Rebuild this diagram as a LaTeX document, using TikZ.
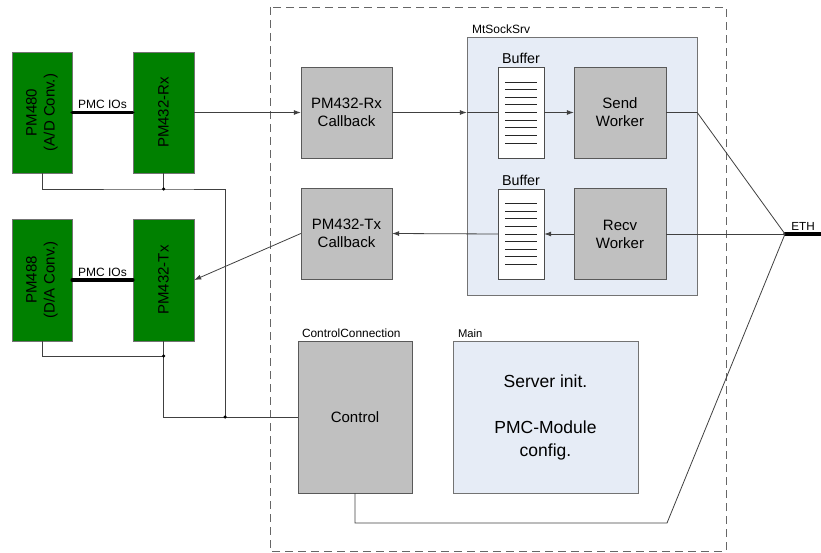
\documentclass[tikz,border=0pt]{standalone}
\usepackage{fontspec}
\setmainfont{Liberation Sans}
\usetikzlibrary{arrows.meta}

\definecolor{pmcgreen}{RGB}{0,128,0}
\definecolor{srvblue}{RGB}{230,236,246}
\definecolor{procgray}{RGB}{192,192,192}

\tikzset{
  conn/.style={draw=black!75, line width=0.8pt},
  bus/.style={draw=black, line width=3.5pt, line cap=round},
  pmcbox/.style={draw=black!55, fill=pmcgreen, inner sep=0pt},
  procbox/.style={draw=black!65, fill=procgray, inner sep=0pt, align=center,
    minimum width=91pt, minimum height=91pt, font=\fontsize{15}{18}\selectfont},
  bufbox/.style={draw=black!70, fill=white, minimum width=46pt, minimum height=91pt, inner sep=0pt},
  grpbox/.style={draw=black!55, fill=srvblue, inner sep=0pt},
  tag/.style={font=\fontsize{12}{14}\selectfont, inner sep=0pt},
  junction/.style={circle, fill=black, inner sep=0pt, minimum size=3.5pt}
}

\begin{document}
\begin{tikzpicture}[x=1pt, y=-1pt, >={Latex[length=7pt,width=5pt]}]
    \useasboundingbox (0,0) rectangle (821,553);
    % outer dashed frame
    \draw[black!60, line width=0.8pt, dash pattern=on 8pt off 5pt] (270,7) rectangle (726,551);
    % PMC modules
    \node[pmcbox, minimum width=60pt, minimum height=121pt] (pmA) at (42,112.5)
        {\rotatebox{90}{\fontsize{15}{18}\selectfont\begin{tabular}{@{}c@{}}PM480\\(A/D Conv.)\end{tabular}}};
    \node[pmcbox, minimum width=61pt, minimum height=121pt] (rx) at (163.5,112.5)
        {\rotatebox{90}{\fontsize{15}{18}\selectfont PM432-Rx}};
    \node[pmcbox, minimum width=60pt, minimum height=122pt] (pmD) at (42,280)
        {\rotatebox{90}{\fontsize{15}{18}\selectfont\begin{tabular}{@{}c@{}}PM488\\(D/A Conv.)\end{tabular}}};
    \node[pmcbox, minimum width=61pt, minimum height=122pt] (tx) at (163.5,280)
        {\rotatebox{90}{\fontsize{15}{18}\selectfont PM432-Tx}};
    % server group
    \node[grpbox, minimum width=230pt, minimum height=258pt] (srv) at (582,166) {};
    \node[tag, anchor=south west] (srvlbl) at ([xshift=5pt,yshift=3pt]srv.north west) {MtSockSrv};
    \node[procbox] (rxcb) at (346.5,112.5) {PM432-Rx\\Callback};
    \node[procbox] (txcb) at (346.5,233.5) {PM432-Tx\\Callback};
    \node[procbox, minimum width=92pt] (send) at (620,112.5) {Send\\Worker};
    \node[procbox, minimum width=92pt] (recv) at (620,234) {Recv\\Worker};
    \node[bufbox] (bufA) at (521,112.5) {};
    \node[bufbox, minimum height=90pt] (bufB) at (521,234) {};
    \foreach \b in {bufA,bufB}{
      \node[anchor=south, inner sep=0pt, font=\fontsize{14.3}{16}\selectfont] at ([yshift=3pt]\b.north) {Buffer};
      \foreach \i in {0,...,8}
        \draw[black!85, line width=0.8pt] ([xshift=-16pt,yshift=-30.5pt+\i*7.625pt]\b.center) -- ++(32pt,0);
    }
    % control and main
    \node[procbox, minimum width=114pt, minimum height=152pt] (ctrl) at (355,417) {Control};
    \node[tag, anchor=south west, font=\fontsize{11.9}{14}\selectfont] (ctrllbl) at ([xshift=4pt,yshift=3pt]ctrl.north west) {ControlConnection};
    \node[grpbox, minimum width=185pt, minimum height=152pt, align=center, font=\fontsize{17.5}{23}\selectfont] (main) at (545.5,417)
        {Server init.\\[23pt]PMC-Module\\config.};
    \node[tag, anchor=south west, font=\fontsize{11.2}{14}\selectfont] (mainlbl) at ([xshift=5pt,yshift=3pt]main.north west) {Main};
    % helper points
    \coordinate (eth) at (785,234);
    \coordinate (ethend) at (821,234);
    \coordinate (jA) at (163.5,189);
    \coordinate (jB) at (225,417);
    \coordinate (jC) at (163.5,356);
    \coordinate (bend) at (667,523);
    \coordinate (srvin) at (srv.west |- rxcb.east);
    \coordinate (srvout) at (srv.east |- send.east);
    % PMC IOs buses
    \draw[bus] (pmA.east) -- (rx.west) node[midway, above=2pt, tag] {PMC IOs};
    \draw[bus] (pmD.east) -- (tx.west) node[midway, above=2pt, tag] {PMC IOs};
    \draw[bus] (eth) -- (ethend) node[midway, above=2pt, tag, font=\fontsize{11.7}{14}\selectfont] {ETH};
    % data path
    \draw[conn, ->] (rx.east) -- (rxcb.west);
    \draw[conn, ->] (rxcb.east) -- (srvin);
    \draw[conn] (srvin) -- (bufA.west);
    \draw[conn, ->] (bufA.east) -- (send.west);
    \draw[conn] (send.east) -- (srvout) -- (eth);
    \draw[conn] (eth) -- (recv.east);
    \draw[conn, ->] (recv.west) -- (bufB.east);
    \draw[conn, ->] (bufB.west) -- (txcb.east);
    \draw[conn, ->] (txcb.west) -- (tx.east);
    \draw[conn] (ctrl.south) |- (bend) -- (eth);
    % wiring to control
    \draw[conn] (pmA.south) |- (jA) -| (jB);
    \draw[conn] (rx.south) -- (jA);
    \draw[conn] (pmD.south) |- (jC);
    \draw[conn] (tx.south) |- (ctrl.west);
    \node[junction] at (jA) {};
    \node[junction] at (jB) {};
    \node[junction] at (jC) {};
\end{tikzpicture}
\end{document}
